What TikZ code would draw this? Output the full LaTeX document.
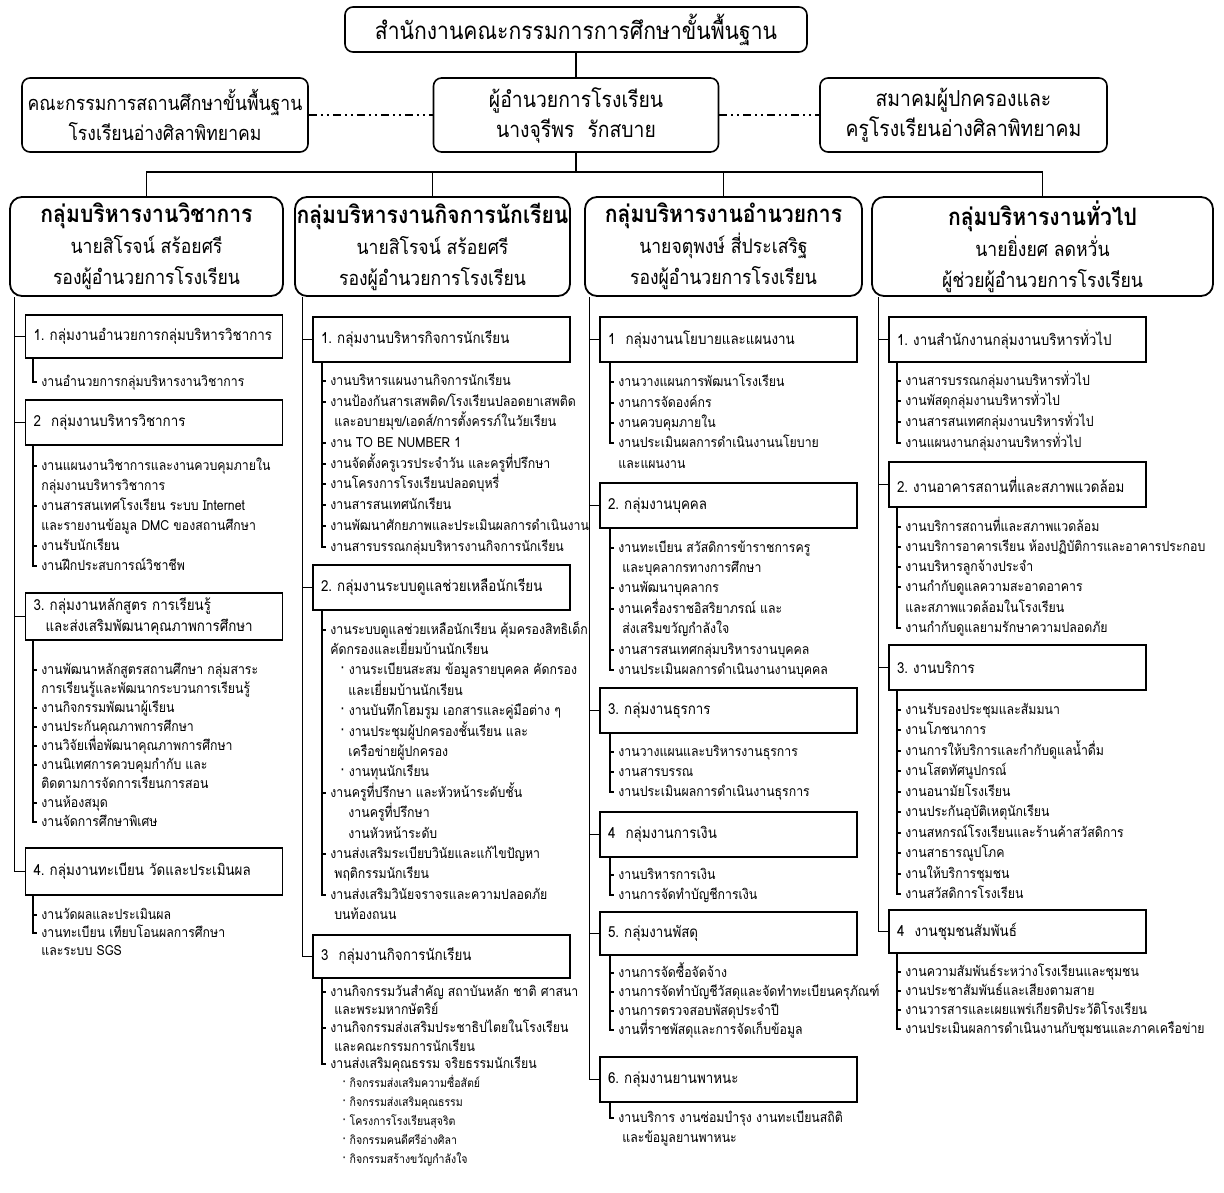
\documentclass[tikz,border=0pt]{standalone}
\usepackage{fontspec}
\setmainfont[Script=Thai, FakeStretch=0.88]{Loma}

\tikzset{
  topbox/.style={draw, line width=0.8pt, rounded corners=4pt, inner sep=0pt, align=center, font=\fontsize{11}{15}\selectfont},
  groupbox/.style={draw, line width=0.9pt, rounded corners=6pt, inner sep=0pt, align=center, minimum height=49.5pt, font=\fontsize{10}{15.5}\selectfont},
  taskbox/.style={draw, line width=0.9pt, inner xsep=4pt, inner ysep=0pt, text width=120.5pt, align=left, minimum height=22.5pt, font=\fontsize{7.6}{10.5}\selectfont},
  taskline/.style={anchor=west, inner xsep=4pt, inner ysep=0pt, text height=5.5pt, text depth=1.5pt, font=\fontsize{7}{9}\selectfont},
  link/.style={line width=0.6pt},
  boardlink/.style={line width=0.6pt, dash pattern=on 4pt off 2pt on 1pt off 2pt on 1pt off 2pt},
}

\begin{document}
\begin{tikzpicture}[x=0.5pt, y=-0.5pt]
\useasboundingbox (0,0) rectangle (1224,1192);

\node[topbox, minimum width=231pt, minimum height=22.5pt, font=\fontsize{12}{15}\selectfont] (obec) at (576,29.5) {สำนักงานคณะกรรมการการศึกษาขั้นพื้นฐาน};
\node[topbox, minimum width=143pt, minimum height=37pt, font=\fontsize{10}{15}\selectfont] (board) at (165,115) {คณะกรรมการสถานศึกษาขั้นพื้นฐาน\\โรงเรียนอ่างศิลาพิทยาคม};
\node[topbox, minimum width=142.5pt, minimum height=37pt] (director) at (576,115) {ผู้อำนวยการโรงเรียน\\นางจุรีพร\ \ รักสบาย};
\node[topbox, minimum width=143.5pt, minimum height=37pt] (parents) at (963.5,115) {สมาคมผู้ปกครองและ\\ครูโรงเรียนอ่างศิลาพิทยาคม};

\node[groupbox, minimum width=136.5pt] (acad) at (146.5,246.5) {{\fontsize{12}{15.5}\selectfont\bfseries กลุ่มบริหารงานวิชาการ}\\นายสิโรจน์ สร้อยศรี\\รองผู้อำนวยการโรงเรียน};
\node[groupbox, minimum width=137.5pt] (stud) at (432.5,246.5) {{\fontsize{12}{15.5}\selectfont\bfseries กลุ่มบริหารงานกิจการนักเรียน}\\นายสิโรจน์ สร้อยศรี\\รองผู้อำนวยการโรงเรียน};
\node[groupbox, minimum width=138.5pt] (admin) at (723.5,246.5) {{\fontsize{12}{15.5}\selectfont\bfseries กลุ่มบริหารงานอำนวยการ}\\นายจตุพงษ์ สี่ประเสริฐ\\รองผู้อำนวยการโรงเรียน};
\node[groupbox, minimum width=170.5pt] (gen) at (1042.5,246.5) {{\fontsize{12}{15.5}\selectfont\bfseries กลุ่มบริหารงานทั่วไป}\\นายยิ่งยศ ลดหวั่น\\ผู้ช่วยผู้อำนวยการโรงเรียน};

\coordinate (bus) at (576,172);
\draw[link] (obec) -- (director);
\draw[link] (director) -- (bus);
\draw[link] (acad) |- (bus) -| (gen);
\draw[link] (stud) -- (stud |- bus);
\draw[link] (admin) -- (admin |- bus);
\draw[boardlink] (board) -- (director);
\draw[boardlink] (director) -- (parents);

\node[taskbox, minimum height=21.5pt] (a1) at (154,336.5) {1.~กลุ่มงานอำนวยการกลุ่มบริหารวิชาการ};
\node[taskbox] (a2) at (154,422.5) {2~~กลุ่มงานบริหารวิชาการ};
\node[taskbox, minimum height=23.5pt] (a3) at (154,616.5) {3.~กลุ่มงานหลักสูตร~การเรียนรู้\\\hspace*{6pt}และส่งเสริมพัฒนาคุณภาพการศึกษา};
\node[taskbox, minimum height=23.5pt] (a4) at (154,871.5) {4.~กลุ่มงานทะเบียน~วัดและประเมินผล};

\node[taskline] (a1t1) at (33,382) {งานอำนวยการกลุ่มบริหารงานวิชาการ};
\node[taskline] (a2t1) at (33,466) {งานแผนงานวิชาการและงานควบคุมภายใน};
\node[taskline] (a2t2) at (33,486) {กลุ่มงานบริหารวิชาการ};
\node[taskline] (a2t3) at (33,506) {งานสารสนเทศโรงเรียน ระบบ Internet};
\node[taskline] (a2t4) at (33,526) {และรายงานข้อมูล DMC ของสถานศึกษา};
\node[taskline] (a2t5) at (33,546) {งานรับนักเรียน};
\node[taskline] (a2t6) at (33,566) {งานฝึกประสบการณ์วิชาชีพ};
\node[taskline] (a3t1) at (33,670) {งานพัฒนาหลักสูตรสถานศึกษา กลุ่มสาระ};
\node[taskline] (a3t2) at (33,689) {การเรียนรู้และพัฒนากระบวนการเรียนรู้};
\node[taskline] (a3t3) at (33,708) {งานกิจกรรมพัฒนาผู้เรียน};
\node[taskline] (a3t4) at (33,727) {งานประกันคุณภาพการศึกษา};
\node[taskline] (a3t5) at (33,746) {งานวิจัยเพื่อพัฒนาคุณภาพการศึกษา};
\node[taskline] (a3t6) at (33,765) {งานนิเทศการควบคุมกำกับ และ};
\node[taskline] (a3t7) at (33,784) {ติดตามการจัดการเรียนการสอน};
\node[taskline] (a3t8) at (33,803) {งานห้องสมุด};
\node[taskline] (a3t9) at (33,822) {งานจัดการศึกษาพิเศษ};
\node[taskline] (a4t1) at (33,915) {งานวัดผลและประเมินผล};
\node[taskline] (a4t2) at (33,933) {งานทะเบียน เทียบโอนผลการศึกษา};
\node[taskline] (a4t3) at (33,951) {และระบบ SGS};

\draw[link] (a4.west) -- ++(-5pt,0) coordinate (a4x) -- (a4x |- acad.south);
\draw[link] (a1.west) -- ++(-5pt,0) (a2.west) -- ++(-5pt,0) (a3.west) -- ++(-5pt,0);
\draw[link] (a1.south -| a1t1.west) -- (a1t1.west) -- ++(2pt,0);
\draw[link] (a2.south -| a2t1.west) -- (a2t6.west) -- ++(2pt,0) (a2t1.west) -- ++(2pt,0) (a2t3.west) -- ++(2pt,0) (a2t5.west) -- ++(2pt,0);
\draw[link] (a3.south -| a3t1.west) -- (a3t9.west) -- ++(2pt,0) (a3t1.west) -- ++(2pt,0) (a3t3.west) -- ++(2pt,0) (a3t4.west) -- ++(2pt,0) (a3t5.west) -- ++(2pt,0) (a3t6.west) -- ++(2pt,0) (a3t8.west) -- ++(2pt,0);
\draw[link] (a4.south -| a4t1.west) -- (a4t2.west) -- ++(2pt,0) (a4t1.west) -- ++(2pt,0);

\node[taskbox] (s1) at (441.5,339.5) {1.~กลุ่มงานบริหารกิจการนักเรียน};
\node[taskbox] (s2) at (441.5,587.5) {2.~กลุ่มงานระบบดูแลช่วยเหลือนักเรียน};
\node[taskbox, minimum height=21.5pt] (s3) at (441.5,956.5) {3~~กลุ่มงานกิจการนักเรียน};

\node[taskline] (s1t1) at (322,381) {งานบริหารแผนงานกิจการนักเรียน};
\node[taskline] (s1t2) at (322,402) {งานป้องกันสารเสพติด/โรงเรียนปลอดยาเสพติด};
\node[taskline] (s1t3) at (322,422) {\hspace*{2pt}และอบายมุข/เอดส์/การตั้งครรภ์ในวัยเรียน};
\node[taskline] (s1t4) at (322,443) {งาน TO BE NUMBER 1};
\node[taskline] (s1t5) at (322,464) {งานจัดตั้งครูเวรประจำวัน และครูที่ปรึกษา};
\node[taskline] (s1t6) at (322,484) {งานโครงการโรงเรียนปลอดบุหรี่};
\node[taskline] (s1t7) at (322,505) {งานสารสนเทศนักเรียน};
\node[taskline] (s1t8) at (322,526) {งานพัฒนาศักยภาพและประเมินผลการดำเนินงาน};
\node[taskline] (s1t9) at (322,547) {งานสารบรรณกลุ่มบริหารงานกิจการนักเรียน};
\node[taskline] (s2t1) at (322,630) {งานระบบดูแลช่วยเหลือนักเรียน คุ้มครองสิทธิเด็ก};
\node[taskline] (s2t2) at (322,650) {คัดกรองและเยี่ยมบ้านนักเรียน};
\node[taskline] (s2t3) at (322,670) {\hspace*{5pt}· งานระเบียนสะสม ข้อมูลรายบุคคล คัดกรอง};
\node[taskline] (s2t4) at (322,691) {\hspace*{9pt}และเยี่ยมบ้านนักเรียน};
\node[taskline] (s2t5) at (322,711) {\hspace*{5pt}· งานบันทึกโฮมรูม เอกสารและคู่มือต่าง ๆ};
\node[taskline] (s2t6) at (322,732) {\hspace*{5pt}· งานประชุมผู้ปกครองชั้นเรียน และ};
\node[taskline] (s2t7) at (322,752) {\hspace*{9pt}เครือข่ายผู้ปกครอง};
\node[taskline] (s2t8) at (322,772) {\hspace*{5pt}· งานทุนนักเรียน};
\node[taskline] (s2t9) at (322,793) {งานครูที่ปรึกษา และหัวหน้าระดับชั้น};
\node[taskline] (s2t10) at (322,813) {\hspace*{9pt}งานครูที่ปรึกษา};
\node[taskline] (s2t11) at (322,834) {\hspace*{9pt}งานหัวหน้าระดับ};
\node[taskline] (s2t12) at (322,854) {งานส่งเสริมระเบียบวินัยและแก้ไขปัญหา};
\node[taskline] (s2t13) at (322,874) {\hspace*{2pt}พฤติกรรมนักเรียน};
\node[taskline] (s2t14) at (322,895) {งานส่งเสริมวินัยจราจรและความปลอดภัย};
\node[taskline] (s2t15) at (322,915) {\hspace*{2pt}บนท้องถนน};
\node[taskline] (s3t1) at (322,992) {งานกิจกรรมวันสำคัญ สถาบันหลัก ชาติ ศาสนา};
\node[taskline] (s3t2) at (322,1010) {\hspace*{2pt}และพระมหากษัตริย์};
\node[taskline] (s3t3) at (322,1028) {งานกิจกรรมส่งเสริมประชาธิปไตยในโรงเรียน};
\node[taskline] (s3t4) at (322,1047) {\hspace*{2pt}และคณะกรรมการนักเรียน};
\node[taskline] (s3t5) at (322,1064) {งานส่งเสริมคุณธรรม จริยธรรมนักเรียน};
\node[taskline, font=\fontsize{6}{8}\selectfont] (s3t6) at (322,1083) {\hspace*{6pt}· กิจกรรมส่งเสริมความซื่อสัตย์};
\node[taskline, font=\fontsize{6}{8}\selectfont] (s3t7) at (322,1102) {\hspace*{6pt}· กิจกรรมส่งเสริมคุณธรรม};
\node[taskline, font=\fontsize{6}{8}\selectfont] (s3t8) at (322,1121) {\hspace*{6pt}· โครงการโรงเรียนสุจริต};
\node[taskline, font=\fontsize{6}{8}\selectfont] (s3t9) at (322,1140) {\hspace*{6pt}· กิจกรรมคนดีศรีอ่างศิลา};
\node[taskline, font=\fontsize{6}{8}\selectfont] (s3t10) at (322,1159) {\hspace*{6pt}· กิจกรรมสร้างขวัญกำลังใจ};

\draw[link] (s3.west) -- ++(-5pt,0) coordinate (s3x) -- (s3x |- stud.south);
\draw[link] (s1.west) -- ++(-5pt,0) (s2.west) -- ++(-5pt,0);
\draw[link] (s1.south -| s1t1.west) -- (s1t9.west) -- ++(2pt,0) (s1t1.west) -- ++(2pt,0) (s1t2.west) -- ++(2pt,0) (s1t4.west) -- ++(2pt,0) (s1t5.west) -- ++(2pt,0) (s1t6.west) -- ++(2pt,0) (s1t7.west) -- ++(2pt,0) (s1t8.west) -- ++(2pt,0);
\draw[link] (s2.south -| s2t1.west) -- (s2t14.west) -- ++(2pt,0) (s2t1.west) -- ++(2pt,0) (s2t9.west) -- ++(2pt,0) (s2t12.west) -- ++(2pt,0);
\draw[link] (s3.south -| s3t1.west) -- (s3t5.west) -- ++(2pt,0) (s3t1.west) -- ++(2pt,0) (s3t3.west) -- ++(2pt,0);

\node[taskbox] (m1) at (728.5,339.5) {1~~กลุ่มงานนโยบายและแผนงาน};
\node[taskbox] (m2) at (728.5,505.5) {2.~กลุ่มงานบุคคล};
\node[taskbox] (m3) at (728.5,710.5) {3.~กลุ่มงานธุรการ};
\node[taskbox] (m4) at (728.5,834.5) {4~~กลุ่มงานการเงิน};
\node[taskbox, minimum height=21.5pt] (m5) at (728.5,933.5) {5.~กลุ่มงานพัสดุ};
\node[taskbox] (m6) at (728.5,1079.5) {6.~กลุ่มงานยานพาหนะ};

\node[taskline] (m1t1) at (610,382) {งานวางแผนการพัฒนาโรงเรียน};
\node[taskline] (m1t2) at (610,403) {งานการจัดองค์กร};
\node[taskline] (m1t3) at (610,423) {งานควบคุมภายใน};
\node[taskline] (m1t4) at (610,443) {งานประเมินผลการดำเนินงานนโยบาย};
\node[taskline] (m1t5) at (610,464) {และแผนงาน};
\node[taskline] (m2t1) at (610,548) {งานทะเบียน สวัสดิการข้าราชการครู};
\node[taskline] (m2t2) at (610,568) {\hspace*{2pt}และบุคลากรทางการศึกษา};
\node[taskline] (m2t3) at (610,588) {งานพัฒนาบุคลากร};
\node[taskline] (m2t4) at (610,609) {งานเครื่องราชอิสริยาภรณ์ และ};
\node[taskline] (m2t5) at (610,629) {\hspace*{2pt}ส่งเสริมขวัญกำลังใจ};
\node[taskline] (m2t6) at (610,650) {งานสารสนเทศกลุ่มบริหารงานบุคคล};
\node[taskline] (m2t7) at (610,670) {งานประเมินผลการดำเนินงานงานบุคคล};
\node[taskline] (m3t1) at (610,752) {งานวางแผนและบริหารงานธุรการ};
\node[taskline] (m3t2) at (610,772) {งานสารบรรณ};
\node[taskline] (m3t3) at (610,792) {งานประเมินผลการดำเนินงานธุรการ};
\node[taskline] (m4t1) at (610,875) {งานบริหารการเงิน};
\node[taskline] (m4t2) at (610,895) {งานการจัดทำบัญชีการเงิน};
\node[taskline] (m5t1) at (610,973) {งานการจัดซื้อจัดจ้าง};
\node[taskline] (m5t2) at (610,992) {งานการจัดทำบัญชีวัสดุและจัดทำทะเบียนครุภัณฑ์};
\node[taskline] (m5t3) at (610,1011) {งานการตรวจสอบพัสดุประจำปี};
\node[taskline] (m5t4) at (610,1030) {งานที่ราชพัสดุและการจัดเก็บข้อมูล};
\node[taskline] (m6t1) at (610,1118) {งานบริการ งานซ่อมบำรุง งานทะเบียนสถิติ};
\node[taskline] (m6t2) at (610,1138) {\hspace*{2pt}และข้อมูลยานพาหนะ};

\draw[link] (m6.west) -- ++(-5pt,0) coordinate (m6x) -- (m6x |- admin.south);
\draw[link] (m1.west) -- ++(-5pt,0) (m2.west) -- ++(-5pt,0) (m3.west) -- ++(-5pt,0) (m4.west) -- ++(-5pt,0) (m5.west) -- ++(-5pt,0);
\draw[link] (m1.south -| m1t1.west) -- (m1t4.west) -- ++(2pt,0) (m1t1.west) -- ++(2pt,0) (m1t2.west) -- ++(2pt,0) (m1t3.west) -- ++(2pt,0);
\draw[link] (m2.south -| m2t1.west) -- (m2t7.west) -- ++(2pt,0) (m2t1.west) -- ++(2pt,0) (m2t3.west) -- ++(2pt,0) (m2t4.west) -- ++(2pt,0) (m2t6.west) -- ++(2pt,0);
\draw[link] (m3.south -| m3t1.west) -- (m3t3.west) -- ++(2pt,0) (m3t1.west) -- ++(2pt,0) (m3t2.west) -- ++(2pt,0);
\draw[link] (m4.south -| m4t1.west) -- (m4t2.west) -- ++(2pt,0) (m4t1.west) -- ++(2pt,0);
\draw[link] (m5.south -| m5t1.west) -- (m5t4.west) -- ++(2pt,0) (m5t1.west) -- ++(2pt,0) (m5t2.west) -- ++(2pt,0) (m5t3.west) -- ++(2pt,0);
\draw[link] (m6.south -| m6t1.west) -- (m6t1.west) -- ++(2pt,0);

\node[taskbox] (g1) at (1017.5,339.5) {1.~งานสำนักงานกลุ่มงานบริหารทั่วไป};
\node[taskbox] (g2) at (1017.5,484.5) {2.~งานอาคารสถานที่และสภาพแวดล้อม};
\node[taskbox] (g3) at (1017.5,667.5) {3.~งานบริการ};
\node[taskbox, minimum height=21.5pt] (g4) at (1017.5,931.5) {4~~งานชุมชนสัมพันธ์};

\node[taskline] (g1t1) at (897,381) {งานสารบรรณกลุ่มงานบริหารทั่วไป};
\node[taskline] (g1t2) at (897,401) {งานพัสดุกลุ่มงานบริหารทั่วไป};
\node[taskline] (g1t3) at (897,422) {งานสารสนเทศกลุ่มงานบริหารทั่วไป};
\node[taskline] (g1t4) at (897,443) {งานแผนงานกลุ่มงานบริหารทั่วไป};
\node[taskline] (g2t1) at (897,527) {งานบริการสถานที่และสภาพแวดล้อม};
\node[taskline] (g2t2) at (897,547) {งานบริการอาคารเรียน ห้องปฏิบัติการและอาคารประกอบ};
\node[taskline] (g2t3) at (897,567) {งานบริหารลูกจ้างประจำ};
\node[taskline] (g2t4) at (897,587) {งานกำกับดูแลความสะอาดอาคาร};
\node[taskline] (g2t5) at (897,608) {และสภาพแวดล้อมในโรงเรียน};
\node[taskline] (g2t6) at (897,628) {งานกำกับดูแลยามรักษาความปลอดภัย};
\node[taskline] (g3t1) at (897,710) {งานรับรองประชุมและสัมมนา};
\node[taskline] (g3t2) at (897,730) {งานโภชนาการ};
\node[taskline] (g3t3) at (897,751) {งานการให้บริการและกำกับดูแลน้ำดื่ม};
\node[taskline] (g3t4) at (897,771) {งานโสตทัศนูปกรณ์};
\node[taskline] (g3t5) at (897,792) {งานอนามัยโรงเรียน};
\node[taskline] (g3t6) at (897,812) {งานประกันอุบัติเหตุนักเรียน};
\node[taskline] (g3t7) at (897,833) {งานสหกรณ์โรงเรียนและร้านค้าสวัสดิการ};
\node[taskline] (g3t8) at (897,853) {งานสาธารณูปโภค};
\node[taskline] (g3t9) at (897,874) {งานให้บริการชุมชน};
\node[taskline] (g3t10) at (897,894) {งานสวัสดิการโรงเรียน};
\node[taskline] (g4t1) at (897,972) {งานความสัมพันธ์ระหว่างโรงเรียนและชุมชน};
\node[taskline] (g4t2) at (897,991) {งานประชาสัมพันธ์และเสียงตามสาย};
\node[taskline] (g4t3) at (897,1010) {งานวารสารและเผยแพร่เกียรติประวัติโรงเรียน};
\node[taskline] (g4t4) at (897,1029) {งานประเมินผลการดำเนินงานกับชุมชนและภาคเครือข่าย};

\draw[link] (g4.west) -- ++(-5pt,0) coordinate (g4x) -- (g4x |- gen.south);
\draw[link] (g1.west) -- ++(-5pt,0) (g2.west) -- ++(-5pt,0) (g3.west) -- ++(-5pt,0);
\draw[link] (g1.south -| g1t1.west) -- (g1t4.west) -- ++(2pt,0) (g1t1.west) -- ++(2pt,0) (g1t2.west) -- ++(2pt,0) (g1t3.west) -- ++(2pt,0);
\draw[link] (g2.south -| g2t1.west) -- (g2t6.west) -- ++(2pt,0) (g2t1.west) -- ++(2pt,0) (g2t2.west) -- ++(2pt,0) (g2t3.west) -- ++(2pt,0) (g2t4.west) -- ++(2pt,0);
\draw[link] (g3.south -| g3t1.west) -- (g3t10.west) -- ++(2pt,0) (g3t1.west) -- ++(2pt,0) (g3t2.west) -- ++(2pt,0) (g3t3.west) -- ++(2pt,0) (g3t4.west) -- ++(2pt,0) (g3t5.west) -- ++(2pt,0) (g3t6.west) -- ++(2pt,0) (g3t7.west) -- ++(2pt,0) (g3t8.west) -- ++(2pt,0) (g3t9.west) -- ++(2pt,0);
\draw[link] (g4.south -| g4t1.west) -- (g4t4.west) -- ++(2pt,0) (g4t1.west) -- ++(2pt,0) (g4t2.west) -- ++(2pt,0) (g4t3.west) -- ++(2pt,0);
\end{tikzpicture}
\end{document}
